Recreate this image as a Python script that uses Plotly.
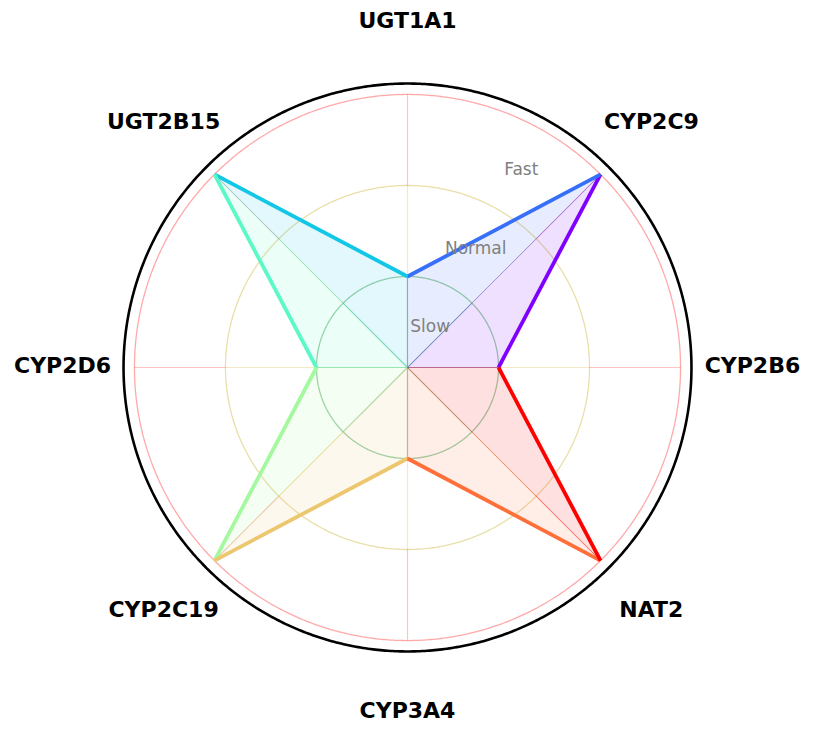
import math
import plotly.graph_objects as go

# ---- data ----
categories = ["CYP2B6", "CYP2C9", "UGT1A1", "UGT2B15", "CYP2D6", "CYP2C19", "CYP3A4", "NAT2"]
values = [1, 3, 1, 3, 1, 3, 1, 3]
level_values = [0.5, 1.5, 2.5]
level_labels = ["Slow", "Normal", "Fast"]
ring_values = [1, 2, 3]
frame_r = 3.12
label_r = 3.79

n = len(categories)
angles = [i * 360.0 / n for i in range(n)]


def rainbow(x):
    r = min(1.0, abs(2 * x - 0.5))
    g = min(1.0, max(0.0, math.sin(math.pi * x)))
    b = min(1.0, max(0.0, math.cos(math.pi * x / 2)))
    return (round(r * 255), round(g * 255), round(b * 255))


seg_colors = [rainbow(i / (n - 1)) for i in range(n)]
ring_colors = ["rgba(40,150,60,0.45)", "rgba(200,175,40,0.4)", "rgba(255,40,40,0.4)"]
spoke_colors = ["rgba(40,150,60,0.4)", "rgba(215,190,60,0.3)", "rgba(255,40,40,0.28)"]

fig = go.Figure()

circ_theta = [k * 0.5 for k in range(721)]
for rv, col in zip(ring_values, ring_colors):
    fig.add_trace(go.Scatterpolar(r=[rv] * len(circ_theta), theta=circ_theta, mode="lines",
                                  line=dict(color=col, width=1.3), hoverinfo="skip"))

inner = [0] + ring_values[:-1]
for r0, r1, col in zip(inner, ring_values, spoke_colors):
    rr, tt = [], []
    for a in angles:
        rr += [r0, r1, None]
        tt += [a, a, None]
    fig.add_trace(go.Scatterpolar(r=rr, theta=tt, mode="lines",
                                  line=dict(color=col, width=1.2), hoverinfo="skip"))

# frame
fig.add_trace(go.Scatterpolar(r=[frame_r] * len(circ_theta), theta=circ_theta, mode="lines",
                              line=dict(color="black", width=2.6), hoverinfo="skip"))

for i in range(n):
    j = (i + 1) % n
    c = seg_colors[i]
    fig.add_trace(go.Scatterpolar(
        r=[0, values[i], values[j], 0], theta=[angles[i], angles[i], angles[j], angles[j]],
        mode="lines", fill="toself",
        fillcolor=f"rgba({c[0]},{c[1]},{c[2]},0.12)",
        line=dict(color=f"rgba({c[0]},{c[1]},{c[2]},0.25)", width=1), hoverinfo="skip"))

for i in range(n):
    j = (i + 1) % n
    c = seg_colors[i]
    fig.add_trace(go.Scatterpolar(
        r=[values[i], values[j]], theta=[angles[i], angles[j]], mode="lines",
        line=dict(color=f"rgb({c[0]},{c[1]},{c[2]})", width=3.8), hoverinfo="skip"))

fig.add_trace(go.Scatterpolar(r=level_values, theta=[60] * len(level_values), mode="text",
                              text=level_labels, textposition="middle center",
                              textfont=dict(family="DejaVu Sans", size=17, color="rgb(128,128,128)"),
                              cliponaxis=False, hoverinfo="skip"))

fig.add_trace(go.Scatterpolar(r=[label_r] * n, theta=angles, mode="text", text=categories,
                              textposition="middle center",
                              textfont=dict(family="DejaVu Sans", size=22, color="black", weight="bold"),
                              cliponaxis=False, hoverinfo="skip"))

fig.update_layout(
    width=814, height=736,
    margin=dict(l=0, r=0, t=0, b=0),
    paper_bgcolor="white",
    showlegend=False,
    polar=dict(
        domain=dict(x=[0.04914, 0.93243], y=[0.0231, 1.0]),
        bgcolor="rgba(0,0,0,0)",
        radialaxis=dict(range=[0, 3.95], visible=False, showgrid=False),
        angularaxis=dict(rotation=0, direction="counterclockwise", showgrid=False,
                         showticklabels=False, ticks="", showline=False),
    ),
)

fig.write_html("out.html")
